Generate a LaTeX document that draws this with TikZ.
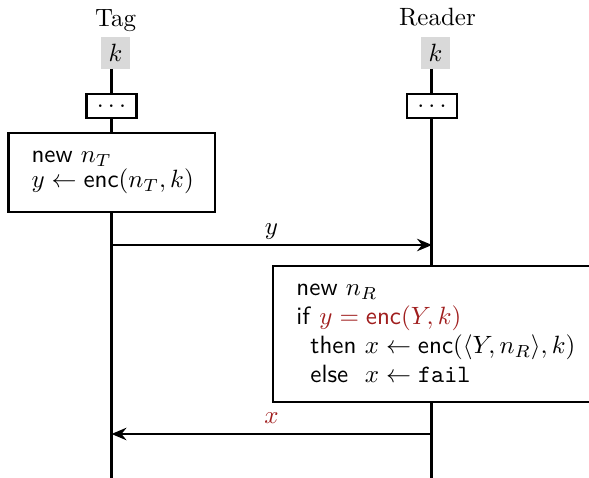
\documentclass[tikz,border=0pt]{standalone}
\usetikzlibrary{arrows.meta}
\definecolor{darkred}{RGB}{160,30,30}
\definecolor{keygray}{RGB}{217,217,217}
\begin{document}
\begin{tikzpicture}[x=0.4pt,y=-0.4pt,
  lbl/.style={inner sep=0pt, anchor=base},
  keybox/.style={fill=keygray, minimum width=11.6pt, minimum height=12.8pt, inner sep=0pt},
  dotbox/.style={draw, line width=1pt, fill=white, minimum width=20pt, minimum height=9.6pt, inner sep=0pt},
  procbox/.style={draw, line width=1pt, fill=white, inner sep=0pt, anchor=north west},
  txt/.style={inner sep=0pt, anchor=base west},
  life/.style={line width=1.2pt},
  msg/.style={line width=0.8pt, -{Stealth[length=6pt,width=5pt,inset=2pt]}}]
\clip (0,0) rectangle (589,478);

\node[lbl] (tagname) at (115.5,27) {Tag};
\node[lbl] (readername) at (437.5,26) {Reader};
\node[keybox] (tk) at (115.5,53) {$k$};
\node[keybox] (rk) at (435.5,53) {$k$};

\coordinate (ttop) at (111.5,69);
\coordinate (tbot) at (111.5,480);
\coordinate (rtop) at (432,69);
\coordinate (rbot) at (432,480);
\draw[life] (ttop) -- (tbot);
\draw[life] (rtop) -- (rbot);

\node[dotbox] (tdots) at (111.5,106) {$\ldots$};
\node[dotbox] (rdots) at (432,106) {$\ldots$};

\node[procbox, minimum width=82.4pt, minimum height=31.6pt] (tbox) at (7.5,132) {};
\node[txt] (t1) at (31,163) {\textsf{new} $n_T$};
\node[txt] (t2) at (31,188) {$y \leftarrow \textsf{enc}(n_T,k)$};

\coordinate (ya) at (111.5,245);
\coordinate (yb) at (432,245);
\draw[msg] (ya) -- (yb);
\node[lbl] (ylab) at (271.5,235) {$y$};

\node[procbox, minimum width=139.2pt, minimum height=54.4pt] (rbox) at (272,265) {};
\node[txt] (r1) at (296,295.5) {\textsf{new} $n_R$};
\node[txt] (r2) at (296,324.5) {\textsf{if} {\color{darkred}$y = \textsf{enc}(Y,k)$}};
\node[txt] (r3) at (310,353.5) {\textsf{then} $x \leftarrow \textsf{enc}(\langle Y, n_R\rangle, k)$};
\node[txt] (r4) at (310,382.5) {\textsf{else}\hspace{3.3pt} $x \leftarrow \texttt{fail}$};

\coordinate (xa) at (432,434);
\coordinate (xb) at (111.5,434);
\draw[msg] (xa) -- (xb);
\node[lbl, text=darkred] (xlab) at (271.5,424) {$x$};
\end{tikzpicture}
\end{document}
